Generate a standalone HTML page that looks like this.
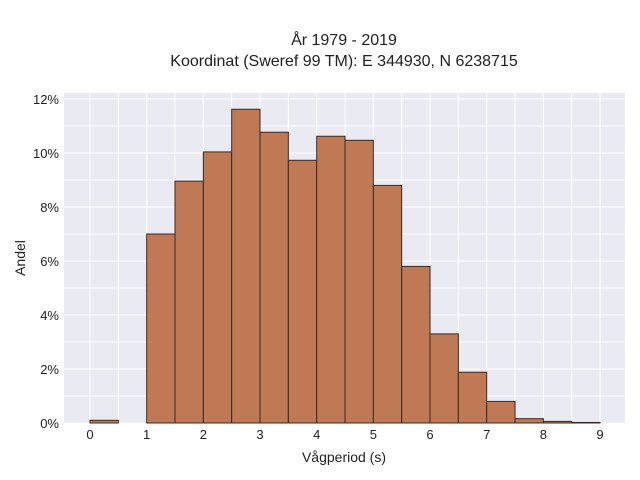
<!DOCTYPE html>
<html><head><meta charset="utf-8"><style>
body{margin:0;background:#fff;}
svg{display:block;font-family:"Liberation Sans",sans-serif;}
</style></head><body>
<svg id="chart" width="640" height="480">
<text x="344" y="45" text-anchor="middle" font-size="16" fill="#222">År 1979 - 2019</text>
<text x="344" y="66" text-anchor="middle" font-size="16" fill="#222">Koordinat (Sweref 99 TM): E 344930, N 6238715</text>
<rect x="64" y="93" width="561" height="330" fill="#eaeaf2"/>
<g id="grid"></g>
<g id="bars"></g>
<g id="xticks"></g>
<g id="yticks"></g>
<text x="344" y="462" text-anchor="middle" font-size="14" fill="#222">Vågperiod (s)</text>
<text transform="translate(25,258) rotate(-90)" text-anchor="middle" font-size="14" fill="#222">Andel</text>
</svg>
<script>
const binStarts=[0,0.5,1,1.5,2,2.5,3,3.5,4,4.5,5,5.5,6,6.5,7,7.5,8,8.5];
const binValues=[0.1,0,7.0,8.96,10.04,11.62,10.77,9.73,10.62,10.47,8.8,5.8,3.3,1.88,0.8,0.16,0.06,0.02];
const binWidth=0.5;
const xTickLabels=[0,1,2,3,4,5,6,7,8,9];
const yTickLabels=[0,2,4,6,8,10,12];
const NS="http://www.w3.org/2000/svg";
const X=v=>90+v*56.67;
const Y=v=>423-v*27;
const grid=document.getElementById('grid'),bars=document.getElementById('bars'),xt=document.getElementById('xticks'),yt=document.getElementById('yticks');
for(let v=0;v<=9;v+=0.5){
 const l=document.createElementNS(NS,'line');
 l.setAttribute('x1',X(v));l.setAttribute('x2',X(v));l.setAttribute('y1',93);l.setAttribute('y2',423);
 l.setAttribute('stroke','#fff');l.setAttribute('stroke-width','1');
 
 
 grid.appendChild(l);
}
for(let v=0;v<=12;v+=1){
 const l=document.createElementNS(NS,'line');
 l.setAttribute('x1',64);l.setAttribute('x2',625);l.setAttribute('y1',Y(v));l.setAttribute('y2',Y(v));
 l.setAttribute('stroke','#fff');l.setAttribute('stroke-width','1');
 
 
 grid.appendChild(l);
}
binStarts.forEach((s,i)=>{
 const v=binValues[i];
 if(v<=0)return;
 const r=document.createElementNS(NS,'rect');
 r.setAttribute('x',X(s));r.setAttribute('width',X(s+binWidth)-X(s));
 r.setAttribute('y',Y(v));r.setAttribute('height',Y(0)-Y(v));
 r.setAttribute('fill','#bf7a55');r.setAttribute('stroke','#3a2a22');r.setAttribute('stroke-width','1');
 
 
 bars.appendChild(r);
});
xTickLabels.forEach(v=>{
 const t=document.createElementNS(NS,'text');
 t.setAttribute('x',X(v));t.setAttribute('y',439);t.setAttribute('text-anchor','middle');
 t.setAttribute('font-size','13');t.setAttribute('fill','#222');t.textContent=v;
 
 
 xt.appendChild(t);
});
yTickLabels.forEach(v=>{
 const t=document.createElementNS(NS,'text');
 t.setAttribute('x',59);t.setAttribute('y',Y(v)+5);t.setAttribute('text-anchor','end');
 t.setAttribute('font-size','13');t.setAttribute('fill','#222');t.textContent=v+'%';
 
 
 yt.appendChild(t);
});
</script>
</body></html>
